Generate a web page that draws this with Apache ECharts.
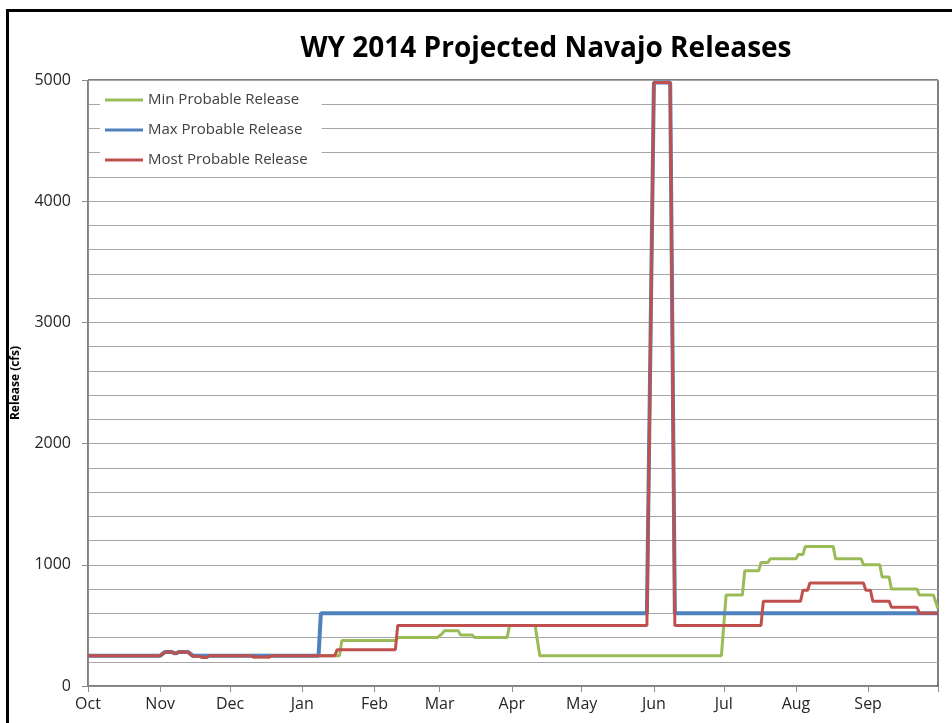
<!DOCTYPE html>
<html>
<head>
<meta charset="utf-8">
<script src="https://cdn.jsdelivr.net/npm/echarts@6/dist/echarts.min.js"></script>
<style>
  html, body { margin: 0; padding: 0; background: #fff; }
  #chart { width: 952px; height: 723px; }
</style>
</head>
<body>
<div id="chart"></div>
<script>
  // day offsets counted from 1 Oct 2013
  const monthStarts = [0, 31, 61, 92, 123, 151, 182, 212, 243, 273, 304, 335, 365];
  const monthNames = ['Oct', 'Nov', 'Dec', 'Jan', 'Feb', 'Mar', 'Apr', 'May', 'Jun', 'Jul', 'Aug', 'Sep'];

  // Min Probable Release
  const minDays = [0, 31, 33, 36, 37, 38, 39, 43, 45, 48, 49, 51, 52, 70, 71, 78, 79,
    108, 109, 132, 133, 150, 152, 153, 159, 160, 165, 166, 180, 181, 192, 194,
    272, 274, 281, 282, 288, 289, 292, 293, 304, 305, 307, 308, 320, 321, 332, 333,
    340, 341, 344, 345, 356, 357, 363, 365];
  const minVals = [250, 250, 280, 280, 270, 270, 280, 280, 245, 245, 235, 235, 250, 250, 240, 240, 250,
    250, 375, 375, 400, 400, 430, 455, 455, 420, 420, 400, 400, 500, 500, 250,
    250, 750, 750, 950, 950, 1020, 1020, 1050, 1050, 1085, 1085, 1150, 1150, 1050, 1050, 1000,
    1000, 900, 900, 800, 800, 750, 750, 640];

  // Max Probable Release
  const maxDays = [0, 31, 33, 36, 37, 38, 39, 43, 45, 51, 52, 99, 100, 240, 243, 250, 252, 365];
  const maxVals = [250, 250, 280, 280, 270, 270, 280, 280, 250, 250, 250, 250, 600, 600, 4980, 4980, 600, 600];

  // Most Probable Release
  const mostDays = [0, 31, 33, 36, 37, 38, 39, 43, 45, 48, 49, 51, 52, 70, 71, 78, 79,
    106, 107, 132, 133, 240, 243, 250, 252, 289, 290, 306, 307, 309, 310, 333, 334, 336, 337,
    344, 345, 356, 357, 365];
  const mostVals = [250, 250, 280, 280, 270, 270, 280, 280, 245, 245, 235, 235, 250, 250, 240, 240, 250,
    250, 300, 300, 500, 500, 4980, 4980, 500, 500, 700, 700, 790, 790, 850, 850, 790, 790, 700,
    700, 650, 650, 600, 600];

  const pairs = (days, vals) => days.map((d, i) => [d, vals[i]]);

  const chart = echarts.init(document.getElementById('chart'));

  const option = {
    animation: false,
    backgroundColor: '#fff',
    textStyle: { fontFamily: 'Open Sans' },
    title: {
      text: 'WY 2014 Projected Navajo Releases',
      left: 541,
      textAlign: 'center',
      top: 30,
      textStyle: { fontSize: 28, fontWeight: 'bold', color: '#000', fontFamily: 'Open Sans' }
    },
    grid: {
      left: 88,
      right: 14,
      top: 80,
      bottom: 37,
      show: true,
      borderColor: '#000',
      borderWidth: 1
    },
    legend: {
      orient: 'vertical',
      left: 100,
      top: 86,
      icon: 'rect',
      itemWidth: 38,
      itemHeight: 3,
      itemGap: 12,
      padding: [5, 14, 5, 5],
      backgroundColor: '#fff',
      textStyle: { fontSize: 15, color: '#404040', lineHeight: 18 },
      data: ['Min Probable Release', 'Max Probable Release', 'Most Probable Release']
    },
    xAxis: {
      type: 'value',
      min: 0,
      max: 365,
      axisLine: { show: true, lineStyle: { color: '#8c8c8c', width: 1 } },
      axisTick: { show: true, length: 6, customValues: monthStarts, lineStyle: { color: '#8c8c8c' } },
      axisLabel: {
        customValues: monthStarts.slice(0, 12),
        formatter: (v) => monthNames[monthStarts.indexOf(v)],
        fontSize: 16,
        color: '#262626',
        margin: 10
      },
      splitLine: { show: false }
    },
    yAxis: {
      type: 'value',
      min: 0,
      max: 5000,
      interval: 1000,
      name: 'Release (cfs)',
      nameLocation: 'middle',
      nameRotate: 90,
      nameGap: 66,
      nameTextStyle: { fontSize: 12, fontWeight: 'bold', color: '#000' },
      axisLine: { show: true, lineStyle: { color: '#8c8c8c' } },
      axisTick: { show: true, length: 6, lineStyle: { color: '#8c8c8c' } },
      axisLabel: { fontSize: 16, color: '#262626', margin: 17, formatter: (v) => String(v) },
      minorTick: { show: false, splitNumber: 5 },
      splitLine: { show: true, lineStyle: { color: '#a6a6a6', width: 1 } },
      minorSplitLine: { show: true, lineStyle: { color: '#a6a6a6', width: 1 } }
    },
    series: [
      {
        name: 'Min Probable Release',
        type: 'line',
        data: pairs(minDays, minVals),
        symbol: 'none',
        color: '#9bbb59',
        lineStyle: { width: 3, color: '#9bbb59' }
      },
      {
        name: 'Max Probable Release',
        type: 'line',
        data: pairs(maxDays, maxVals),
        symbol: 'none',
        color: '#4f81bd',
        lineStyle: { width: 4, color: '#4f81bd' }
      },
      {
        name: 'Most Probable Release',
        type: 'line',
        data: pairs(mostDays, mostVals),
        symbol: 'none',
        color: '#c0504d',
        lineStyle: { width: 3, color: '#c0504d' }
      }
    ],
    graphic: [
      {
        type: 'polyline',
        silent: true,
        shape: { points: [[7.5, 730], [7.5, 10.5], [960, 10.5]] },
        style: { fill: null, stroke: '#000', lineWidth: 3 }
      }
    ]
  };

  chart.setOption(option);
</script>
</body>
</html>
